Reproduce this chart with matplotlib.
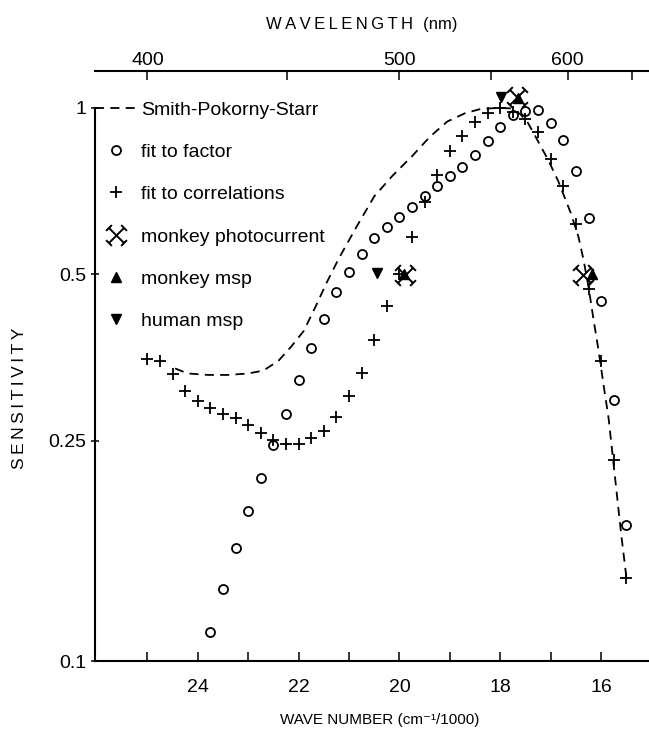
import numpy as np
import matplotlib
matplotlib.use("Agg")
import matplotlib.pyplot as plt
from matplotlib.path import Path
from matplotlib.ticker import NullLocator, FixedLocator

plt.rcParams['font.family'] = ['Liberation Sans', 'DejaVu Sans']

# wave number (cm-1/1000) and relative sensitivity
sps_wn = [24.45, 24.2, 23.8, 23.4, 23.0, 22.7, 22.4, 22.15, 21.9, 21.65, 21.45,
          21.2, 20.85, 20.5, 20.15, 19.75, 19.4, 19.05, 18.7, 18.4, 18.05, 17.8,
          17.6, 17.45, 17.25, 17.05, 16.85, 16.6, 16.45, 16.35, 16.25, 16.15,
          16.05, 15.95, 15.85, 15.72, 15.6, 15.5]
sps_sens = [0.338, 0.331, 0.329, 0.329, 0.331, 0.335, 0.349, 0.370, 0.395, 0.440,
            0.482, 0.535, 0.610, 0.692, 0.752, 0.818, 0.886, 0.945, 0.978, 0.995,
            1.0, 0.998, 0.974, 0.939, 0.870, 0.805, 0.737, 0.645, 0.585, 0.532,
            0.475, 0.414, 0.364, 0.315, 0.274, 0.213, 0.169, 0.142]

factor_wn = [23.75, 23.5, 23.25, 23.0, 22.75, 22.5, 22.25, 22.0, 21.75, 21.5,
             21.25, 21.0, 20.75, 20.5, 20.25, 20.0, 19.75, 19.5, 19.25, 19.0,
             18.75, 18.5, 18.25, 18.0, 17.75, 17.5, 17.25, 17.0, 16.75, 16.5,
             16.25, 16.0, 15.75, 15.5]
factor_sens = [0.113, 0.135, 0.160, 0.187, 0.214, 0.246, 0.280, 0.322, 0.368, 0.415,
               0.464, 0.506, 0.545, 0.581, 0.610, 0.636, 0.661, 0.693, 0.721, 0.752,
               0.783, 0.822, 0.870, 0.925, 0.971, 0.988, 0.993, 0.939, 0.875, 0.769,
               0.633, 0.448, 0.296, 0.176]

corr_wn = [25.0, 24.75, 24.5, 24.25, 24.0, 23.75, 23.5, 23.25, 23.0, 22.75, 22.5,
           22.25, 22.0, 21.75, 21.5, 21.25, 21.0, 20.75, 20.5, 20.25, 20.0, 19.75,
           19.5, 19.25, 19.0, 18.75, 18.5, 18.25, 18.0, 17.75, 17.5, 17.25, 17.0,
           16.75, 16.5, 16.25, 16.0, 15.75, 15.5]
corr_sens = [0.351, 0.349, 0.330, 0.308, 0.295, 0.287, 0.280, 0.275, 0.267, 0.258,
             0.251, 0.247, 0.247, 0.253, 0.261, 0.276, 0.301, 0.332, 0.381, 0.438,
             0.50, 0.585, 0.675, 0.757, 0.834, 0.889, 0.941, 0.978, 0.999, 0.985,
             0.954, 0.905, 0.808, 0.723, 0.617, 0.47, 0.349, 0.231, 0.141]

photo_wn = [19.9, 17.67, 16.35]
photo_sens = [0.499, 1.045, 0.499]
mmsp_wn = [19.92, 17.65, 16.18]
mmsp_sens = [0.50, 1.04, 0.50]
hmsp_wn = [20.45, 17.99]
hmsp_sens = [0.503, 1.045]

legend_labels = ['Smith-Pokorny-Starr', 'fit to factor', 'fit to correlations',
                 'monkey photocurrent', 'monkey msp', 'human msp']

ytick_vals = [0.1, 0.25, 0.5, 1.0]
ytick_text = ['0.1', '0.25', '0.5', '1']
xtick_vals = [25, 24, 23, 22, 21, 20, 19, 18, 17, 16]
nm_ticks = [400, 450, 500, 550, 600, 650]
nm_text = ['400', '', '500', '', '600', '']

# X with little end bars, as drawn in the paper
c = 0.38
verts = [(-1, -1), (1, 1), (-1, 1), (1, -1),
         (1 - c, 1 + c), (1 + c, 1 - c),
         (-1 - c, -1 + c), (-1 + c, -1 - c),
         (1 - c, -1 - c), (1 + c, -1 + c),
         (-1 - c, 1 - c), (-1 + c, 1 + c)]
codes = [Path.MOVETO, Path.LINETO] * 6
capped_x = Path(verts, codes)

W, H = 649, 738
fig = plt.figure(figsize=(W / 100, H / 100), dpi=100)
ax = fig.add_axes([95 / W, 77 / H, 554 / W, 590 / H])

ax.plot(sps_wn, sps_sens, color='black', lw=1.3, dashes=(5, 3.5),
        label=legend_labels[0])
ax.plot(factor_wn, factor_sens, 'o', ms=6.5, mfc='none', mec='black', mew=1.3,
        label=legend_labels[1])
ax.plot(corr_wn, corr_sens, '+', ms=8.5, mec='black', mew=1.3,
        label=legend_labels[2])
ax.plot(photo_wn, photo_sens, ls='none', marker=capped_x, ms=15, mfc='none',
        mec='black', mew=1.4, label=legend_labels[3])
ax.plot(mmsp_wn, mmsp_sens, '^', ms=7, color='black', label=legend_labels[4])
ax.plot(hmsp_wn, hmsp_sens, 'v', ms=7, color='black', label=legend_labels[5])

ax.set_yscale('log')
ax.set_ylim(0.1, 1.166)
ax.set_xlim(26.04, 15.05)

ax.yaxis.set_major_locator(FixedLocator(ytick_vals))
ax.yaxis.set_minor_locator(NullLocator())
ax.set_yticklabels(ytick_text)
ax.set_xticks(xtick_vals)
ax.set_xticklabels([str(v) if v % 2 == 0 else '' for v in xtick_vals])

for s in ['top', 'right']:
    ax.spines[s].set_visible(False)
for s in ['left', 'bottom']:
    ax.spines[s].set_linewidth(1.5)
ax.spines['left'].set_bounds(0.1, 1.0)

ax.tick_params(axis='x', direction='in', length=6.5, width=1.1, pad=13,
               labelsize=14)
ax.tick_params(axis='y', direction='inout', length=6, width=1.1, pad=3,
               labelsize=14)

sec = ax.secondary_xaxis('top', functions=(lambda w: 1e4 / w, lambda l: 1e4 / l))
sec.set_xticks(nm_ticks)
sec.set_xticklabels(nm_text)
sec.xaxis.set_minor_locator(NullLocator())
sec.spines['top'].set_linewidth(1.5)
sec.tick_params(axis='x', direction='in', length=6.5, width=1.1, pad=1.5,
                labelsize=14)

fig.text(362 / W, 1 - 25 / H, '\u2009'.join('WAVELENGTH') + '\u2009\u2009\u2009(nm)',
         ha='center', va='center', fontsize=12)
fig.text(20 / W, 1 - 398 / H, '\u2009'.join('SENSITIVITY'), rotation=90,
         ha='center', va='center', fontsize=12.5)
fig.text(380 / W, 1 - 720 / H, 'WAVE NUMBER (cm\u207b\u00b9/1000)',
         ha='center', va='center', fontsize=11)

ax.legend(loc='upper left', bbox_to_anchor=(0, 1 - 30 / 590), borderaxespad=0,
          borderpad=0, frameon=False, fontsize=14, handlelength=2.2,
          handletextpad=0.15, labelspacing=1.27, numpoints=1)

fig.savefig('out.png', dpi=100)
